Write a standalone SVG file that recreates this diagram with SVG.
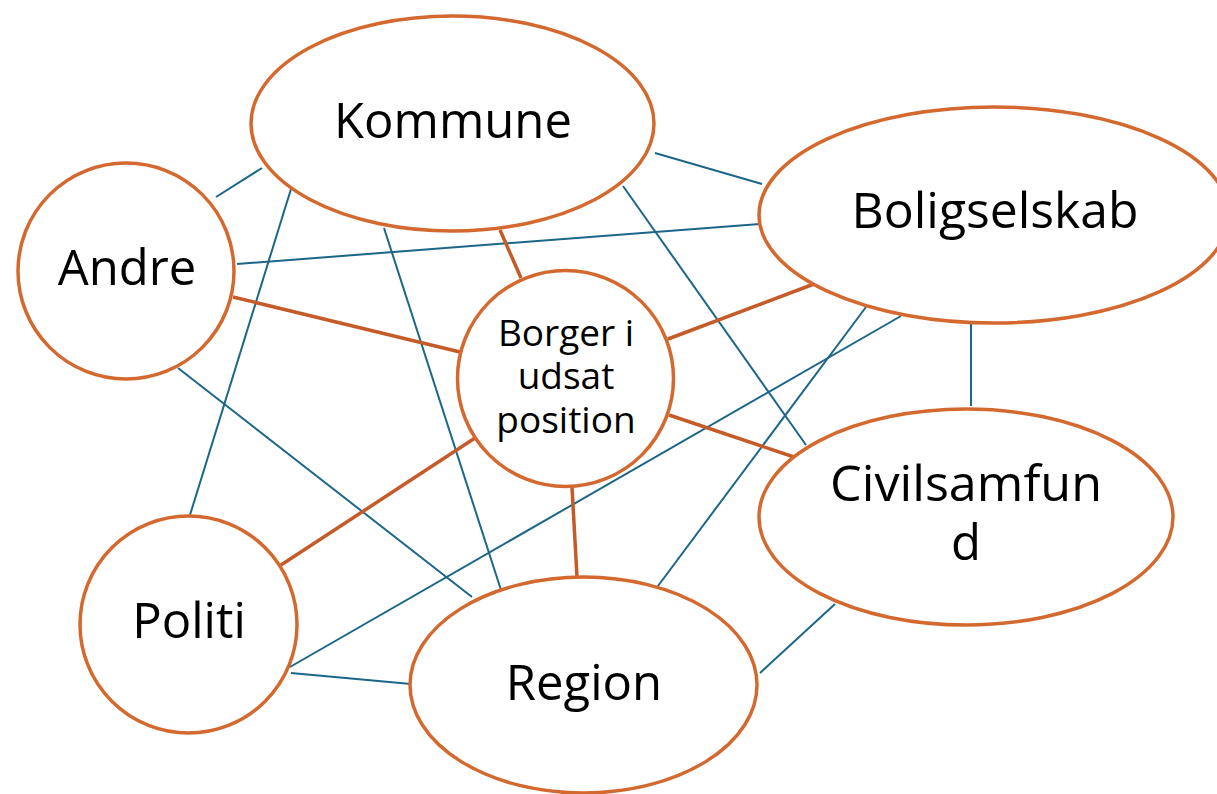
<svg xmlns="http://www.w3.org/2000/svg" width="1217" height="794" viewBox="0 0 1217 794">
<style>
.node{fill:#ffffff;stroke:#d4692f;stroke-width:3.5}
.b{stroke:#1c6688;stroke-width:2;fill:none}
.r{stroke:#c55b29;stroke-width:3.5;fill:none}
.t{font-family:"Open Sans","Liberation Sans",sans-serif;fill:#000;text-anchor:middle;font-size:49px}
.s{font-size:37px}
</style>
<rect width="1217" height="794" fill="#ffffff"/>
<g id="connectors">
<line class="b" x1="216" y1="197" x2="262" y2="168"/>
<line class="b" x1="237" y1="264" x2="760" y2="224"/>
<line class="b" x1="655" y1="153" x2="762" y2="184"/>
<line class="b" x1="291" y1="189" x2="190" y2="515"/>
<line class="b" x1="384" y1="228" x2="501" y2="590"/>
<line class="b" x1="623" y1="186" x2="806" y2="445"/>
<line class="b" x1="178" y1="368" x2="472" y2="597"/>
<line class="b" x1="866" y1="307" x2="655" y2="590"/>
<line class="b" x1="901" y1="316" x2="290" y2="667"/>
<line class="b" x1="971" y1="322" x2="971" y2="406"/>
<line class="b" x1="291" y1="673" x2="411" y2="684"/>
<line class="b" x1="835" y1="604" x2="760" y2="673"/>
<line class="r" x1="500" y1="230" x2="521" y2="278"/>
<line class="r" x1="233" y1="297" x2="460" y2="352"/>
<line class="r" x1="814" y1="284" x2="668" y2="339"/>
<line class="r" x1="669" y1="415" x2="794" y2="457"/>
<line class="r" x1="475" y1="438" x2="281" y2="565"/>
<line class="r" x1="572" y1="487" x2="577" y2="577"/>
</g>
<g id="kommune">
<ellipse class="node" cx="452.5" cy="123.5" rx="201.5" ry="107.5"/>
<text class="t" x="453" y="138">Kommune</text>
</g>
<g id="boligselskab">
<ellipse class="node" cx="994" cy="215" rx="235" ry="108"/>
<text class="t" x="995" y="228" textLength="287" lengthAdjust="spacingAndGlyphs">Boligselskab</text>
</g>
<g id="andre">
<ellipse class="node" cx="126" cy="271" rx="108" ry="108"/>
<text class="t" x="127" y="285">Andre</text>
</g>
<g id="borger">
<ellipse class="node" cx="565.5" cy="378.5" rx="108" ry="108"/>
<text class="t s" x="566" y="346">Borger i</text>
<text class="t s" x="566" y="389">udsat</text>
<text class="t s" x="566" y="433">position</text>
</g>
<g id="civilsamfund">
<ellipse class="node" cx="966" cy="517" rx="207" ry="108"/>
<text class="t" x="966" y="501" textLength="272" lengthAdjust="spacingAndGlyphs">Civilsamfun</text>
<text class="t" x="966" y="560">d</text>
</g>
<g id="politi">
<ellipse class="node" cx="188.5" cy="624.5" rx="108.5" ry="108.5"/>
<text class="t" x="189" y="638">Politi</text>
</g>
<g id="region">
<ellipse class="node" cx="583.5" cy="685" rx="173.5" ry="108"/>
<text class="t" x="584" y="700">Region</text>
</g>
</svg>
